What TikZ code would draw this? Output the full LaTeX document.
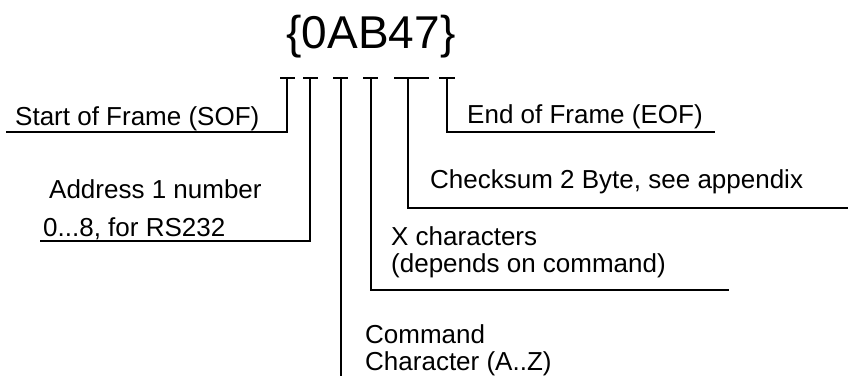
\documentclass[tikz,border=0pt]{standalone}
\usepackage{fontspec}
\setmainfont{Liberation Sans}
\begin{document}
\begin{tikzpicture}[x=1pt,y=-1pt]
        % Styles
        \tikzstyle{frame text}=[font=\fontsize{46}{50}\selectfont,inner sep=0pt]
        \tikzstyle{field text}=[font=\fontsize{26}{27}\selectfont,inner sep=0pt,anchor=base west,align=left]
        \tikzstyle{marker}=[line width=1.3pt]
        \useasboundingbox (0,0) rectangle (848,376);
        %The graphic
        %frame string
        \node[frame text,anchor=base] (frame) at (371,48) {\{0AB47\}};
        %markers under the characters
        \foreach \name/\x/\l/\r in {sof/287/280/295,adr/310/303/318,cmd/341/333/348,dat/371/363/378,chk/408/394/429,eof/447/439/455}
        {
            \coordinate (\name) at (\x,78);
            \coordinate (\name-l) at (\l,78);
            \coordinate (\name-r) at (\r,78);
            \draw[marker] (\name-l) -- (\name-r);
        }
        %ends of the leader lines
        \coordinate (sof-end) at (6,132);
        \coordinate (adr-end) at (40,241);
        \coordinate (cmd-end) at (341,376);
        \coordinate (dat-end) at (729,290);
        \coordinate (chk-end) at (848,208);
        \coordinate (eof-end) at (715,132);
        %texts (base = last line)
        \node[field text] (sof text) at (15,125) {Start of Frame (SOF)};
        \node[field text] (adr text) at (49,198) {Address 1 number};
        \node[field text] (adr text2) at (43,236) {0...8, for RS232};
        \node[field text] (cmd text) at (365,370) {Command\\Character (A..Z)};
        \node[field text] (dat text) at (391,272) {X characters\\(depends on command)};
        \node[field text] (chk text) at (430,188) {Checksum 2 Byte, see appendix};
        \node[field text] (eof text) at (467,123) {End of Frame (EOF)};
        %leader lines
        \draw[marker] (sof) |- (sof-end);
        \draw[marker] (adr) |- (adr-end);
        \draw[marker] (cmd) -- (cmd-end);
        \draw[marker] (dat) |- (dat-end);
        \draw[marker] (chk) |- (chk-end);
        \draw[marker] (eof) |- (eof-end);
\end{tikzpicture}
\end{document}
